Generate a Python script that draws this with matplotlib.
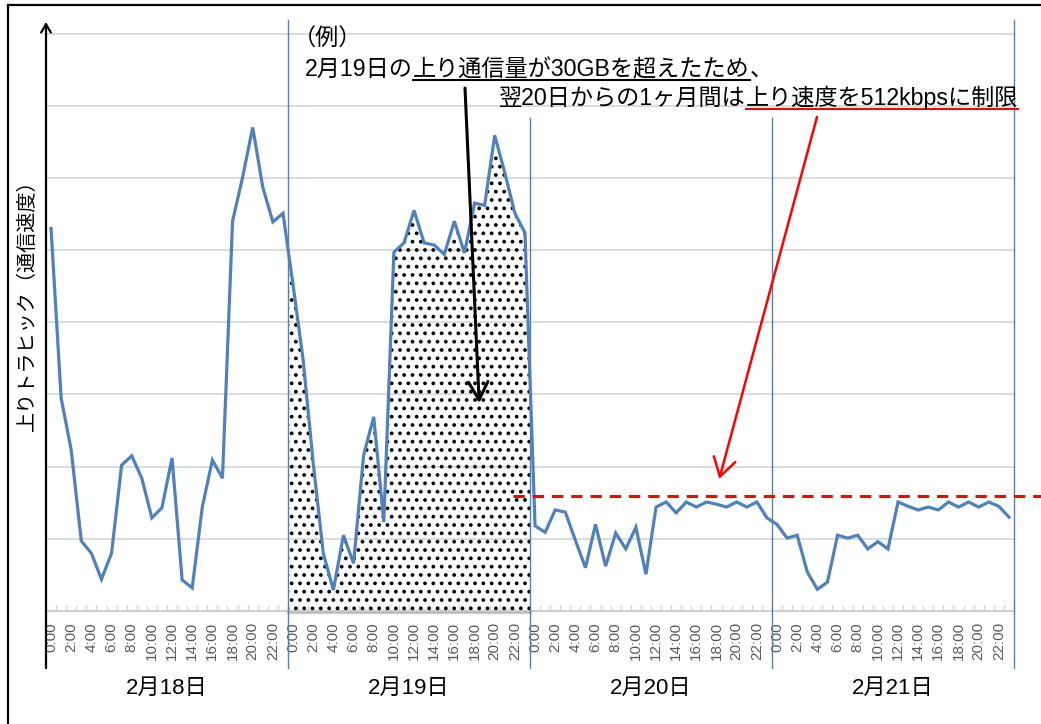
import numpy as np
import matplotlib
matplotlib.use('Agg')
import matplotlib.pyplot as plt
from matplotlib.lines import Line2D

# ---------------- data ----------------
days = ['2月18日', '2月19日', '2月20日', '2月21日']
hour_labels = [f'{h}:00' for h in range(0, 24, 2)]

day18 = [5.30, 2.95, 2.23, 0.97, 0.80, 0.44, 0.80, 2.02, 2.15, 1.84, 1.29, 1.43,
         2.12, 0.43, 0.32, 1.44, 2.09, 1.84, 5.40, 6.01, 6.70, 5.87, 5.39, 5.51]
day19 = [4.52, 3.48, 2.05, 0.80, 0.29, 1.05, 0.66, 2.16, 2.69, 1.23, 4.97, 5.10,
         5.55, 5.10, 5.07, 4.94, 5.40, 4.96, 5.65, 5.62, 6.59, 6.07, 5.51, 5.24]
day20 = [1.18, 1.09, 1.40, 1.37, 0.98, 0.60, 1.20, 0.62, 1.08, 0.86, 1.16, 0.51,
         1.44, 1.51, 1.36, 1.51, 1.44, 1.51, 1.48, 1.44, 1.51, 1.44, 1.51, 1.29]
day21 = [1.20, 1.01, 1.05, 0.54, 0.30, 0.40, 1.05, 1.01, 1.05, 0.86, 0.96, 0.86,
         1.51, 1.45, 1.40, 1.44, 1.40, 1.51, 1.44, 1.51, 1.44, 1.51, 1.45, 1.30]
limit_value = 1.6          # 512kbps level
highlight_day = 1          # 2月19日 (over 30GB)

ylabel = '上りトラヒック（通信速度）'
note_head = '（例）'
note_line1 = [('2月19日の', None), ('上り通信量が30GBを超えたため', 'black'), ('、', None)]
note_line2 = [('翌20日からの1ヶ月間は', None), ('上り速度を512kbpsに制限', 'red')]

# ---------------- style ----------------
FONT = ['Liberation Sans', 'Noto Sans CJK JP']
plt.rcParams['font.family'] = FONT
plt.rcParams['hatch.linewidth'] = 1.5

W, H = 1041, 724
fig = plt.figure(figsize=(W / 100, H / 100), dpi=100)
fig.patch.set_facecolor('white')

values = np.array(day18 + day19 + day20 + day21)
n_per_day = len(day18)
x = np.arange(len(values))

ax = fig.add_axes([46 / W, (H - 611) / H, (1014 - 46) / W, (611 - 22) / H])
ax.set_xlim(-0.5, len(values) - 0.5)
ax.set_ylim(0, 8.16)
for s in ax.spines.values():
    s.set_visible(False)

# grid
ax.set_yticks(np.arange(1, 9))
ax.tick_params(axis='y', length=0, labelleft=False)
ax.yaxis.grid(True, color='#d9d9d9', lw=1.3)
ax.set_axisbelow(True)
ax.axhline(0, color='#d0d0d0', lw=1.6, zorder=1, clip_on=False)

# x ticks
major = np.arange(0, len(values), 2)
ax.set_xticks(major)
ax.set_xticklabels([hour_labels[(i % n_per_day) // 2] for i in major],
                   rotation=90, fontsize=11, color='#595959')
ax.tick_params(axis='x', which='major', length=0, pad=8)
ax.set_xticks(np.arange(-0.5, len(values), 1), minor=True)
ax.tick_params(axis='x', which='minor', direction='in', length=4, color='#d0d0d0', width=1)

xt = ax.get_xaxis_transform()
# day separators
for d in range(1, len(days) + 1):
    xb = d * n_per_day - 0.5
    top = 1.003 if d in (1, len(days)) else 0.837
    ax.plot([xb, xb], [-0.097, top], transform=xt, color='#4f81bd', lw=1.0,
            clip_on=False, zorder=2.5)
# day labels
for d, name in enumerate(days):
    ax.text(d * n_per_day + (n_per_day - 1) / 2, -0.132, name, transform=xt,
            ha='center', va='center', fontsize=16, color='black')

# dotted fill for the highlighted day
x0 = highlight_day * n_per_day - 0.5
x1 = (highlight_day + 1) * n_per_day - 0.5
xs = np.concatenate([[x0], np.arange(highlight_day * n_per_day, (highlight_day + 1) * n_per_day), [x1]])
ys = np.interp(xs, x, values)
ax.fill_between(xs, 0, ys, facecolor='none', edgecolor='black', hatch='..', lw=0, zorder=2)
ax.plot([x0, x1], [-0.01, -0.01], color='#bfbfbf', lw=2.0, zorder=1.5, clip_on=False)

# data line
ax.plot(x, values, color='#4f81bd', lw=2.3, zorder=3, solid_joinstyle='miter')

# limit line
ax.plot([45.8, 98.2], [limit_value, limit_value], color='red', lw=2.2,
        ls=(0, (3.7, 2.6)), clip_on=False, zorder=4)

# y axis arrow
ax.annotate('', xy=(-0.5, 1.0), xycoords=xt, xytext=(-0.5, -0.097), textcoords=xt,
            arrowprops=dict(arrowstyle='->,head_length=0.6,head_width=0.35', color='black',
                            lw=1.6, shrinkA=0, shrinkB=0), annotation_clip=False)
fig.text(27 / W, (H - 300) / H, ylabel, rotation=90, ha='center', va='center', fontsize=14.5)

# pointer arrows
ax.annotate('', xy=(42.46, 2.88), xycoords='data', xytext=(465, H - 88), textcoords='figure pixels',
            arrowprops=dict(arrowstyle='->,head_length=0.65,head_width=0.35', color='black',
                            lw=2.2, shrinkA=0, shrinkB=0, mutation_scale=20), zorder=6)
ax.annotate('', xy=(66.27, 1.83), xycoords='data', xytext=(817, H - 117), textcoords='figure pixels',
            arrowprops=dict(arrowstyle='->,head_length=0.65,head_width=0.4', color='red',
                            lw=1.8, shrinkA=0, shrinkB=0, mutation_scale=20), zorder=6)

# outer frame
fig.add_artist(Line2D([8 / W, 8 / W], [0, 1 - 5 / H], transform=fig.transFigure, color='black', lw=1.6))
fig.add_artist(Line2D([8 / W, 1], [1 - 5 / H, 1 - 5 / H], transform=fig.transFigure, color='black', lw=1.6))

# annotation text
renderer = fig.canvas.get_renderer()


def write_line(x_px, base_px, pieces, fs=16.7):
    xx = x_px
    for txt, ucol in pieces:
        t = fig.text(xx / W, (H - base_px) / H, txt, fontsize=fs, ha='left', va='baseline',
                     color='black', zorder=7)
        bb = t.get_window_extent(renderer=renderer)
        if ucol:
            yy = (H - base_px - 4) / H
            fig.add_artist(Line2D([bb.x0 / W, bb.x1 / W], [yy, yy], transform=fig.transFigure,
                                  color=ucol, lw=1.5))
        xx = bb.x1


write_line(293, 46, [(note_head, None)])
write_line(305, 76, note_line1)
write_line(499, 105, note_line2)

fig.savefig('out.png', dpi=100)
